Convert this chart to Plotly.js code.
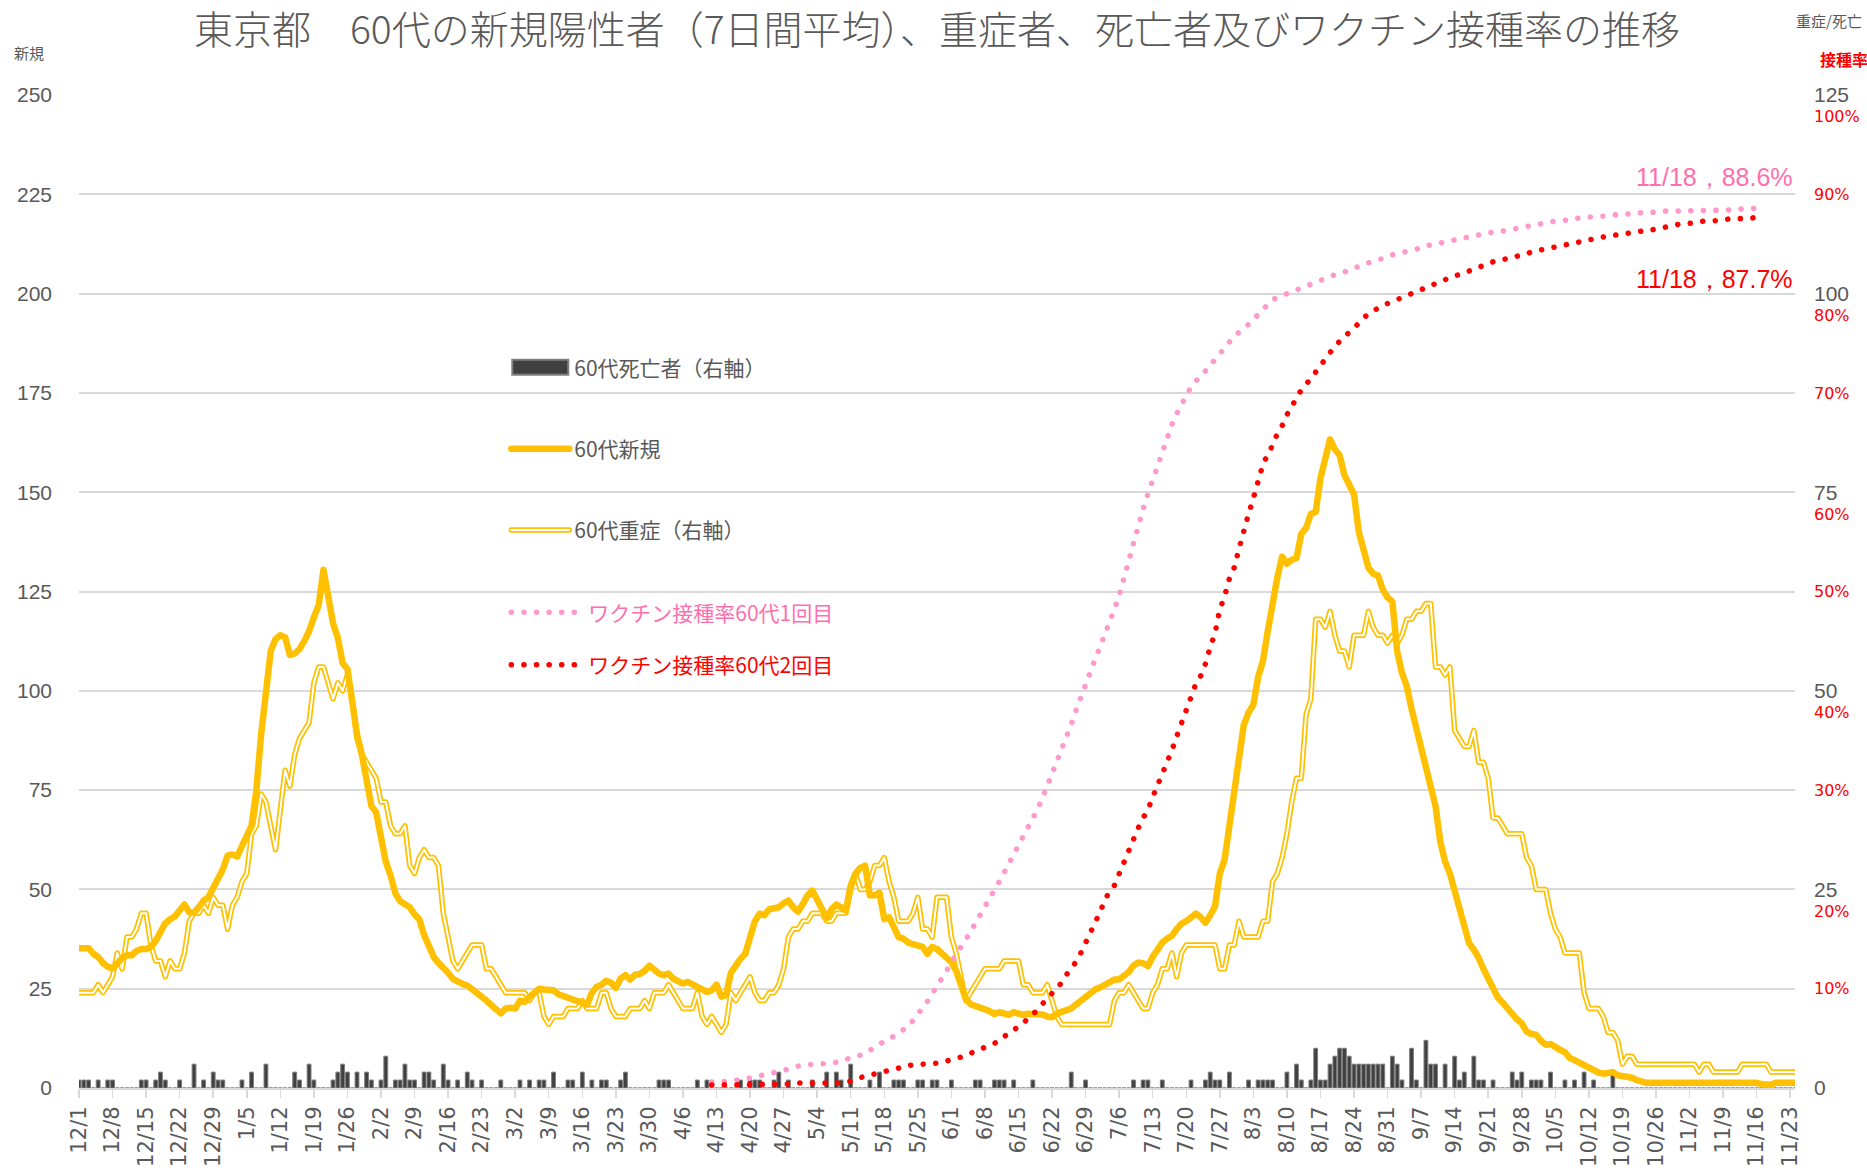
<!DOCTYPE html>
<html><head><meta charset="utf-8">
<script src="https://cdn.plot.ly/plotly-3.0.1.min.js"></script>
<style>
html,body{margin:0;padding:0;background:#fff;}
#chart{width:1867px;height:1175px;}
.js-line{stroke-linecap:round;stroke-linejoin:round;}
</style></head><body><div id="chart"></div>
<script>
// ---- data (daily, starting 2020-12-01) ----
const startDate = '2020-12-01';
const newCases60 = [
35.2,35.2,35.2,33.8,33,31.5,30.5,
30.1,31.6,32.7,33.5,33.4,34.5,35,
35,35.5,37,39,41.5,42.5,43.2,
44.7,46.2,44.2,44.2,45.5,47.2,48,
50.5,52.3,55,58.5,58.8,58.3,60.5,
63.5,66,75,89,100,110,113,
114,113.5,109,109.4,110.5,112.5,115,
118.5,121.5,130.5,124.5,117,113.3,107,
105.5,97,89,84,78,71,69.4,
64,57,53.5,49,47,46,45.5,
43.7,42.5,38.5,36,33,31.5,30.5,
29,27.5,26.6,26.2,25.8,24.7,24,
23,22,20.7,19.8,18.8,20,20.2,
20,22,21.7,23,24.2,25,24.8,
24.7,24.6,23.6,23.2,22.9,22.2,21.9,
21.3,21,24,25.5,26,27,26.5,
25.2,27.6,28.4,27.3,28.5,28.7,29.5,
30.8,29.5,28.8,28.4,28.8,27.5,26.8,
26.3,26.7,26,25.5,25,24.2,24.6,
26,23,23.4,29,31,32.5,33.8,
38,42,43.9,43.5,45,45.3,45.5,
46.5,47.2,45.5,44.4,46.3,48.5,49.7,
47.5,44.5,42.8,45,46.2,45.5,44.7,
51,54,55.4,56,48.5,48.5,49.2,
42.5,43,40.5,38,37.6,36.6,36.2,
35.9,35.5,33.8,35.5,35,33.8,33,
31.7,29.5,25.5,22.5,21.1,20.8,20.2,
19.8,19.3,18.6,19.1,18.7,18.4,19.1,
18.6,18.4,18.7,18.7,18.7,18.5,18,
17.8,18.8,19.2,19.4,20,21,22,
23.3,24.2,24.8,25.3,26,26.6,27.3,
27.3,28.2,29.2,30.8,31.6,31.4,30.7,
33,34.8,36.6,37.6,38.3,40,41.4,
42,43,43.9,43,41.6,43.5,45.7,
54,57.5,66,75,84.6,91.4,94.5,
96.5,103.5,107.5,115,122.5,128.5,133.8,
132,133,133.4,139.5,141,144.5,145,
153.5,158,163.3,160.8,159.3,154.3,152,
149.5,140,136,131,129.5,129,125.5,
123.5,122.5,110,104.5,101.2,95.5,90.5,
85.9,80.8,76,71,62,57,54,
49.5,44.5,40,36.5,34.8,32.8,30,
27.5,25.7,22.8,21.5,20,18.8,17.3,
16.3,14.2,13.6,13.4,11.9,10.9,11.1,
10.2,9.6,9,7.6,7,6.4,5.7,
5.2,4.2,3.9,3.6,4,4,3.2,
3,2.9,2.6,2,1.6,1.3,1.3,
1.3,1.3,1.5,1.7,1.7,1.7,1.7,
1.4,1.4,1.7,1.7,1.7,1.7,1.7,
1.7,1.7,1.5,1.4,1.3,1.3,1.3,
1.3,1,0.7,0.8,1.3,1.3,1.3,
1.3,1.3];

const severe60 = [
12,12,12,12,13,12,13,
14,17,15,19,19,20,22,
22,18,16,16,14,16,15,
15,17,21,22,22,23,22,
24,23,23,20,23,24,26,
27,32,33,37,36,33,30,
35,40,38,42,44,45,46,
51,53,53,51,49,51,50,
52,49,44,42,41,40,39,
36,36,33,32,32,33,28,
27,29,30,29,29,28,22,
19,16,15,16,17,18,18,
18,15,15,14,13,12,12,
12,12,12,11,12,12,9,
8,9,9,9,10,10,10,
11,10,10,10,12,12,10,
9,9,9,10,10,10,11,
10,12,12,12,13,12,11,
10,10,10,12,9,8,9,
8,7,8,12,11,12,13,
14,12,11,11,12,12,13,
15,19,20,20,21,21,22,
22,22,21,21,22,22,22,
25,27,25,25,26,28,28,
29,26,24,21,21,21,22,
24,20,20,19,24,24,24,
19,17,14,11,12,13,14,
15,15,15,15,16,16,16,
16,13,13,12,12,12,13,
11,9,8,8,8,8,8,
8,8,8,8,8,8,11,
12,12,13,12,11,10,10,
12,13,15,15,17,14,17,
18,18,18,18,18,18,18,
15,15,18,18,21,19,19,
19,19,21,21,26,27,29,
32,36,39,39,47,49,59,
59,58,60,57,55,55,53,
57,57,57,60,58,57,57,
56,57,56,57,59,59,60,
60,61,61,53,53,52,53,
45,44,43,43,45,41,41,
39,34,34,33,32,32,32,
32,29,28,25,25,25,22,
20,19,17,17,17,17,12,
10,10,10,9,7,7,6,
3,4,4,3,3,3,3,
3,3,3,3,3,3,3,
3,3,2,3,3,2,2,
2,2,2,2,3,3,3,
3,3,3,2,2,2,2,
2,2];

const deaths60 = [
1,1,1,0,1,0,1,
1,0,0,0,0,0,1,
1,0,1,2,1,0,0,
1,0,0,3,0,1,0,
2,1,1,0,0,0,1,
0,2,0,0,3,0,0,
0,0,0,2,1,0,3,
1,0,0,0,1,2,3,
2,0,2,0,2,1,0,
1,4,0,1,1,3,1,
1,0,2,2,1,0,3,
1,0,1,0,2,1,0,
1,0,0,0,1,0,0,
0,1,0,1,0,1,1,
0,2,0,0,1,1,0,
2,0,1,0,1,1,0,
0,1,2,0,0,0,0,
0,0,1,1,1,0,0,
0,0,0,1,0,1,0,
0,0,0,0,0,1,0,
1,1,1,0,0,1,2,
0,1,0,0,0,0,1,
0,0,2,0,2,1,0,
3,0,0,0,1,0,2,
0,0,1,1,1,0,0,
1,1,0,1,1,0,0,
1,0,0,0,0,1,1,
0,0,1,1,1,0,1,
0,0,0,1,0,0,0,
0,0,0,0,2,0,0,
1,0,0,0,0,0,0,
0,0,0,1,0,1,1,
0,0,1,0,0,0,0,
0,1,0,0,1,2,1,
1,0,2,0,0,0,1,
0,1,1,1,1,0,0,
2,0,3,1,0,1,5,
1,1,3,4,5,5,4,
3,3,3,3,3,3,3,
0,4,3,1,0,5,1,
0,6,3,3,0,3,0,
4,1,2,0,4,1,1,
0,1,0,0,0,2,1,
2,0,1,1,1,0,2,
0,0,1,0,1,0,2,
0,1,0,0,0,2,0,
0,0,0,0,0,0,0,
0,0,0,0,0,0,0,
0,0,0,0,0,0,0,
0,0,0,0,0,0,0,
0,0,0,0,0,0,0,
0,0];

// vaccination rates (%), daily from 2021-04-12 to 2021-11-18
const vaccStartDate = '2021-04-12';
const vacc1st = [
0.6,0.6,0.6,0.6,0.7,0.8,0.8,
0.9,1.0,1.1,1.2,1.4,1.5,1.6,
1.7,1.8,1.9,2.0,2.2,2.3,2.4,
2.4,2.4,2.4,2.4,2.5,2.6,2.8,
2.9,3.0,3.1,3.3,3.5,3.8,4.1,
4.5,4.7,4.9,5.2,5.5,5.8,6.2,
6.8,7.4,8.0,8.7,9.5,10.2,11.0,
11.8,12.7,13.4,14.3,15.0,15.7,16.6,
17.4,18.2,19.1,20.0,20.8,21.7,22.6,
23.4,24.3,25.3,26.2,27.1,28.1,29.2,
30.4,31.5,32.7,33.9,35.2,36.6,38.0,
39.4,40.8,42.1,43.2,44.4,45.6,47.0,
48.2,49.6,51.4,53.0,54.8,56.6,58.3,
59.8,61.2,62.9,64.1,65.4,66.8,67.9,
68.8,69.6,70.6,71.2,71.6,72.2,72.8,
73.4,74.0,74.7,75.2,75.7,76.1,76.5,
76.9,77.3,77.9,78.4,78.9,79.4,79.6,
79.8,79.9,80.1,80.3,80.5,80.8,81.0,
81.1,81.3,81.5,81.7,81.9,82.0,82.2,
82.4,82.6,82.8,83.0,83.1,83.2,83.4,
83.5,83.7,83.9,84.0,84.1,84.2,84.3,
84.5,84.6,84.8,84.9,85.0,85.1,85.2,
85.3,85.4,85.5,85.7,85.8,85.9,86.0,
86.1,86.1,86.2,86.2,86.3,86.3,86.4,
86.5,86.7,86.8,86.9,86.9,87.0,87.2,
87.2,87.3,87.3,87.4,87.5,87.5,87.6,
87.7,87.7,87.7,87.8,87.8,87.9,87.9,
87.9,88.0,88.0,88.1,88.1,88.2,88.2,
88.2,88.2,88.3,88.3,88.4,88.4,88.4,
88.4,88.4,88.4,88.4,88.4,88.4,88.4,
88.4,88.4,88.4,88.5,88.5,88.6,88.6,
88.6,88.6,88.6];
const vacc2nd = [
0.3,0.3,0.3,0.3,0.3,0.3,0.3,
0.3,0.3,0.3,0.3,0.3,0.3,0.3,
0.3,0.3,0.4,0.5,0.5,0.5,0.5,
0.5,0.5,0.5,0.5,0.5,0.5,0.5,
0.5,0.7,0.9,1.1,1.2,1.3,1.4,
1.5,1.6,1.8,1.9,2.0,2.2,2.3,
2.4,2.4,2.4,2.4,2.5,2.5,2.6,
2.7,2.8,2.9,3.1,3.3,3.5,3.6,
3.8,4.0,4.2,4.5,4.8,5.2,5.5,
5.9,6.1,6.6,7.0,7.4,7.9,8.4,
9.0,9.5,10.0,10.6,11.4,12.0,12.7,
13.6,14.6,15.5,16.5,17.7,18.9,19.8,
20.4,21.6,22.8,23.8,25.0,26.2,27.2,
28.0,29.3,30.5,31.5,32.6,34.0,35.4,
36.8,37.8,39.4,40.7,41.5,42.7,44.4,
45.8,48.2,49.5,51.3,52.4,54.3,56.3,
57.8,59.4,61.2,62.8,63.8,64.7,65.9,
66.7,67.8,68.7,69.6,70.3,70.9,71.4,
72.1,72.8,73.5,74.1,74.7,75.2,75.7,
76.1,76.5,77.0,77.6,77.9,78.3,78.5,
78.8,79.0,79.2,79.4,79.6,79.8,80.0,
80.3,80.5,80.7,80.9,81.0,81.2,81.4,
81.6,81.8,81.9,82.1,82.3,82.5,82.7,
82.8,83.0,83.2,83.3,83.4,83.5,83.7,
83.8,83.9,84.0,84.2,84.3,84.4,84.5,
84.6,84.7,84.8,85.0,85.0,85.1,85.2,
85.3,85.4,85.5,85.6,85.7,85.8,85.9,
85.9,86.0,86.1,86.2,86.2,86.3,86.3,
86.4,86.5,86.6,86.8,86.9,86.9,87.0,
87.0,87.1,87.2,87.2,87.3,87.3,87.3,
87.4,87.4,87.5,87.5,87.5,87.6,87.6,
87.6,87.7,87.7,87.7];

const tickLabels = ['12/1','12/8','12/15','12/22','12/29','1/5','1/12','1/19','1/26','2/2','2/9','2/16','2/23',
'3/2','3/9','3/16','3/23','3/30','4/6','4/13','4/20','4/27','5/4','5/11','5/18','5/25','6/1','6/8','6/15',
'6/22','6/29','7/6','7/13','7/20','7/27','8/3','8/10','8/17','8/24','8/31','9/7','9/14','9/21','9/28',
'10/5','10/12','10/19','10/26','11/2','11/9','11/16','11/23'];
const leftTicks = [0,25,50,75,100,125,150,175,200,225,250];
const rightTicks = [0,25,50,75,100,125];
const pctTicks = [10,20,30,40,50,60,70,80,90,100];
const endLabel1 = '11/18，88.6%';
const endLabel2 = '11/18，87.7%';
const nameDeaths = '60代死亡者（右軸）';
const nameNew = '60代新規';
const nameSevere = '60代重症（右軸）';
const nameVacc1 = 'ワクチン接種率60代1回目';
const nameVacc2 = 'ワクチン接種率60代2回目';

// ---- helpers ----
function dateSeq(start, n){
  const t0 = Date.parse(start + 'T00:00:00Z');
  const out = [];
  for(let i=0;i<n;i++){ out.push(new Date(t0 + i*86400000).toISOString().slice(0,10)); }
  return out;
}
const days = dateSeq(startDate, newCases60.length);
const vaccDays = dateSeq(vaccStartDate, vacc1st.length);
const tickVals = tickLabels.map((_,i)=>days[i*7]);
// even percent labels sit a little lower, below the number labels of the right axis
const pctDrop = 2.2;
const pctVals = pctTicks.map(v => (v % 20 === 0) ? v - pctDrop : v);
const pctText = pctTicks.map(v => v + '%');

const gray = '#595959';
const orange = '#FFC000';
const pink = '#FF99CC';
const pinkText = '#FF6FAE';
const red = '#FF0000';
const jp = '"Noto Sans CJK JP", "Noto Sans", sans-serif';
const num = '"Liberation Sans", Arial, sans-serif';

const traces = [
  {type:'bar', x:days, y:deaths60, yaxis:'y', name:nameDeaths, showlegend:false,
   marker:{color:'#404040', line:{color:'#7F7F7F', width:1}}, hoverinfo:'skip'},
  {type:'scatter', mode:'lines', x:[null], y:[null], yaxis:'y', name:nameDeaths,
   legend:'legend', legendgroup:'g1', legendrank:1, line:{color:'#404040', width:10}},
  {type:'scatter', mode:'lines', x:days, y:severe60, yaxis:'y', name:nameSevere,
   legend:'legend', legendgroup:'g3', legendrank:3, line:{color:orange, width:5.5}},
  {type:'scatter', mode:'lines', x:days, y:severe60, yaxis:'y', showlegend:false,
   line:{color:'#FFFFFF', width:2}},
  {type:'scatter', mode:'lines', x:days, y:newCases60, yaxis:'y2', name:nameNew,
   legend:'legend', legendgroup:'g2', legendrank:2, line:{color:orange, width:6.5}},
  {type:'scatter', mode:'lines', x:vaccDays, y:vacc1st, yaxis:'y3',
   name:'<span style="color:'+pinkText+'">'+nameVacc1+'</span>',
   legend:'legend2', legendgroup:'g4', legendrank:4, line:{color:pink, width:5.5, dash:'0.1px,12.5px'}},
  {type:'scatter', mode:'lines', x:vaccDays, y:vacc2nd, yaxis:'y3',
   name:'<span style="color:'+red+'">'+nameVacc2+'</span>',
   legend:'legend2', legendgroup:'g5', legendrank:5, line:{color:red, width:5.5, dash:'0.1px,12.5px'}}
];

const layout = {
  width:1867, height:1175,
  margin:{l:79, r:72, t:95, b:87},
  paper_bgcolor:'#fff', plot_bgcolor:'#fff',
  showlegend:true,
  bargap:0.2,
  title:{text:'東京都　60代の新規陽性者（7日間平均）、重症者、死亡者及びワクチン接種率の推移',
    x:0.5, xref:'paper', xanchor:'center', y:0.974, yref:'container', yanchor:'middle',
    font:{family:jp, size:39, weight:300, color:gray}},
  xaxis:{type:'date', range:[days[0], days[days.length-1]], tickmode:'array', tickvals:tickVals, ticktext:tickLabels,
    tickangle:-90, ticks:'outside', ticklen:8, tickwidth:1.5, tickcolor:'#D9D9D9',
    showline:true, linecolor:'#D9D9D9', linewidth:2, showgrid:false, zeroline:false,
    tickfont:{family:'"DejaVu Sans", sans-serif', size:21, color:gray}},
  yaxis:{side:'right', range:[0,125], tickmode:'array', tickvals:rightTicks, showgrid:false, zeroline:false,
    ticks:'', ticklabelstandoff:18, tickfont:{family:num, size:21, color:gray}},
  yaxis2:{overlaying:'y', side:'left', range:[0,250], tickmode:'array', tickvals:leftTicks,
    showgrid:true, gridcolor:'#D9D9D9', gridwidth:2, zeroline:false, ticks:'', ticklabelstandoff:26,
    tickfont:{family:num, size:21, color:gray}},
  yaxis3:{overlaying:'y', side:'right', range:[0,100], tickmode:'array', tickvals:pctVals, ticktext:pctText,
    showgrid:false, zeroline:false, ticks:'', ticklabelstandoff:18,
    tickfont:{family:'"DejaVu Sans", sans-serif', size:16, color:red}},
  legend:{x:0.249, y:0.746, xanchor:'left', yanchor:'top', bgcolor:'rgba(0,0,0,0)', borderwidth:0,
    traceorder:'grouped', tracegroupgap:51, itemwidth:58, itemclick:false,
    font:{family:jp, size:21, color:gray}},
  legend2:{x:0.249, y:0.4993, xanchor:'left', yanchor:'top', bgcolor:'rgba(0,0,0,0)', borderwidth:0,
    traceorder:'grouped', tracegroupgap:22, itemwidth:72, itemclick:false,
    font:{family:jp, size:21, color:gray}},
  annotations:[
    {text:'新規', xref:'paper', yref:'paper', x:-0.039, y:1.0428, xanchor:'left', yanchor:'middle',
     showarrow:false, font:{family:jp, size:15, color:gray}},
    {text:'重症/死亡', xref:'paper', yref:'paper', x:0.9994, y:1.075, xanchor:'left', yanchor:'middle',
     showarrow:false, font:{family:jp, size:15, color:gray}},
    {text:'<b>接種率</b>', xref:'paper', yref:'paper', x:1.0134, y:1.0358, xanchor:'left', yanchor:'middle',
     showarrow:false, font:{family:jp, size:16, color:red}},
    {text:endLabel1, xref:'paper', yref:'y3', x:1, y:vacc1st[vacc1st.length-1], xanchor:'right', yanchor:'bottom',
     yshift:15, showarrow:false, font:{family:'"Liberation Sans Narrow", "Liberation Sans", sans-serif', size:25, color:pinkText}},
    {text:endLabel2, xref:'paper', yref:'y3', x:1, y:vacc2nd[vacc2nd.length-1], xanchor:'right', yanchor:'top',
     yshift:-46, showarrow:false, font:{family:'"Liberation Sans Narrow", "Liberation Sans", sans-serif', size:25, color:red}}
  ]
};

Plotly.newPlot('chart', traces, layout, {displayModeBar:false, staticPlot:true}).then(function(gd){
  // legend symbol styling: box for the bar series, double line for severe cases
  const items = gd.querySelectorAll('g.traces');
  items.forEach(function(it){
    const t = it.querySelector('text.legendtext');
    const p = it.querySelector('path.js-line');
    if(!t || !p) return;
    const label = t.textContent;
    if(label === nameDeaths){
      p.style.strokeLinecap = 'butt';
      p.style.stroke = '#7F7F7F';
      p.style.strokeWidth = '17px';
      const inner = p.cloneNode(true);
      inner.style.stroke = '#404040';
      inner.style.strokeWidth = '13px';
      inner.setAttribute('transform','translate(2,0) scale(1,1)');
      const d = p.getAttribute('d');
      const m = /M([\d.\-]+),([\d.\-]+)h([\d.\-]+)/.exec(d);
      if(m){ inner.setAttribute('d','M'+(+m[1]+2)+','+m[2]+'h'+(+m[3]-4)); inner.removeAttribute('transform'); }
      p.parentNode.appendChild(inner);
    } else if(label === nameSevere){
      const inner = p.cloneNode(true);
      inner.style.stroke = '#FFFFFF';
      inner.style.strokeWidth = '2px';
      p.parentNode.appendChild(inner);
    }
  });
});
</script></body></html>
